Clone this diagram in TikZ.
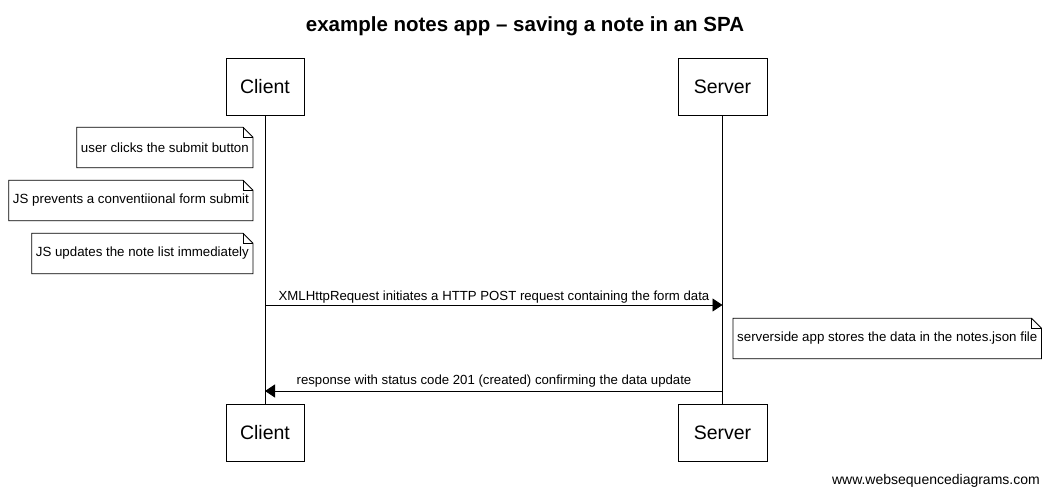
\documentclass[tikz,border=0pt]{standalone}
\usepackage{fontspec}
\setmainfont{Liberation Sans}
\usetikzlibrary{arrows.meta}
\begin{document}
\begin{tikzpicture}[x=1pt,y=-1pt,
  actor/.style={draw,line width=0.8pt,minimum width=78pt,minimum height=57pt,inner sep=0pt,font=\fontsize{19.5}{21}\selectfont},
  notebox/.style={minimum height=40pt,inner xsep=4pt,inner ysep=0pt,font=\fontsize{13.3}{15}\selectfont},
  noteline/.style={line width=0.8pt},
  msg/.style={line width=0.8pt,-{Triangle[length=10pt,width=13pt]}},
  lbl/.style={font=\fontsize{13.2}{15}\selectfont,inner sep=0pt},
  life/.style={line width=0.8pt}
]
\useasboundingbox[fill=white] (0,0) rectangle (1050,495);
\node[font=\bfseries\fontsize{20.5}{23}\selectfont] (title) at (525,26) {example notes app – saving a note in an SPA};

\node[actor] (c1) at (265,86.5) {Client};
\node[actor,minimum width=89pt] (s1) at (722.5,86.5) {Server};
\node[actor] (c2) at (265,432.5) {Client};
\node[actor,minimum width=89pt] (s2) at (722.5,432.5) {Server};
\draw[life] (c1) -- (c2);
\draw[life] (s1) -- (s2);

\node[notebox,anchor=east] (n1) at (253,147.5) {user clicks the submit button};
\node[notebox,anchor=east] (n2) at (253,200.5) {JS prevents a conventiional form submit};
\node[notebox,anchor=east] (n3) at (253,253.5) {JS updates the note list immediately};
\node[notebox,anchor=west] (n4) at (733,338.5) {serverside app stores the data in the notes.json file};
\foreach \n in {n1,n2,n3,n4}{
  \draw[noteline] (\n.north west) -- ([xshift=-10pt]\n.north east) -- ([yshift=-10pt]\n.north east) -- (\n.south east) -- (\n.south west) -- cycle;
  \draw[noteline] ([xshift=-10pt]\n.north east) |- ([yshift=-10pt]\n.north east);
}

\coordinate (a1s) at (c1.south |- 0,305);
\coordinate (a1e) at (s1.south |- 0,305);
\draw[msg] (a1s) -- (a1e);
\node[lbl] (l1) at (494,297) {XMLHttpRequest initiates a HTTP POST request containing the form data};

\coordinate (a2s) at (s1.south |- 0,391);
\coordinate (a2e) at (c1.south |- 0,391);
\draw[msg] (a2s) -- (a2e);
\node[lbl] (l2) at (494,381) {response with status code 201 (created) confirming the data update};

\node[lbl,anchor=east,font=\fontsize{14}{16}\selectfont] (foot) at (1040,481) {www.websequencediagrams.com};
\end{tikzpicture}
\end{document}
